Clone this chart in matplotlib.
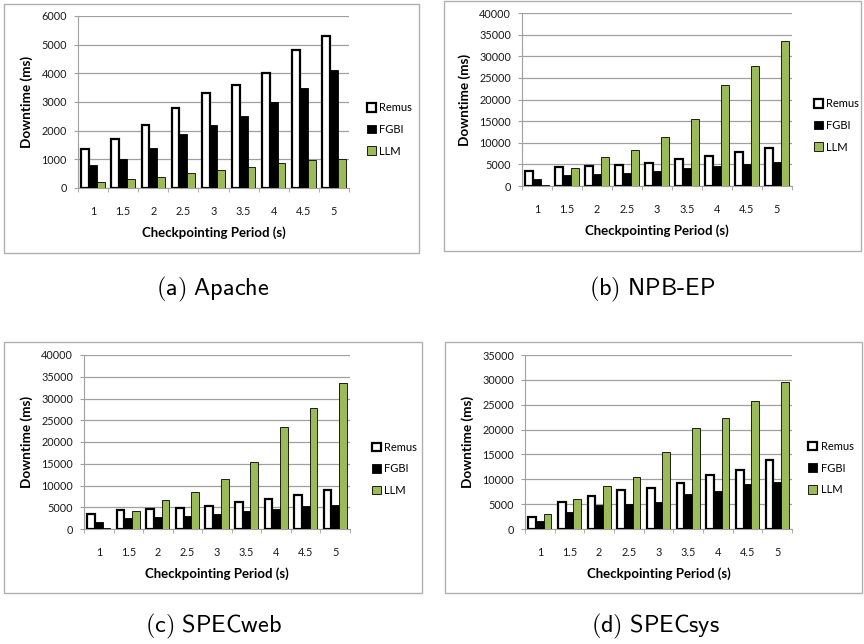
import matplotlib
matplotlib.use('Agg')
import matplotlib.pyplot as plt
from matplotlib.patches import Rectangle
import numpy as np

periods = ['1', '1.5', '2', '2.5', '3', '3.5', '4', '4.5', '5']
series_names = ['Remus', 'FGBI', 'LLM']

apache_remus = [1350, 1700, 2200, 2800, 3300, 3600, 4000, 4800, 5300]
apache_fgbi = [800, 1000, 1400, 1900, 2200, 2500, 3000, 3500, 4100]
apache_llm = [200, 300, 400, 520, 620, 730, 860, 970, 1000]

npb_remus = [3500, 4400, 4700, 4900, 5300, 6300, 6900, 7800, 8900]
npb_fgbi = [1600, 2500, 2800, 3100, 3500, 4100, 4700, 5200, 5500]
npb_llm = [200, 4100, 6700, 8400, 11400, 15400, 23400, 27800, 33600]

specweb_remus = [3500, 4400, 4700, 4900, 5300, 6300, 6900, 7800, 8900]
specweb_fgbi = [1600, 2500, 2800, 3100, 3500, 4100, 4700, 5200, 5500]
specweb_llm = [200, 4100, 6700, 8400, 11400, 15400, 23400, 27800, 33600]

specsys_remus = [2500, 5400, 6700, 7900, 8300, 9300, 10900, 11800, 13900]
specsys_fgbi = [1700, 3500, 4800, 5100, 5400, 7000, 7700, 9100, 9500]
specsys_llm = [3100, 6000, 8700, 10400, 15400, 20400, 22400, 25800, 29600]

captions = ['(a) Apache', '(b) NPB-EP', '(c) SPECweb', '(d) SPECsys']

plt.rcParams['font.family'] = ['Lato', 'DejaVu Sans']
plt.rcParams['mathtext.fontset'] = 'cm'

face_colors = ['white', 'black', '#9bbb59']
grid_grey = '#a0a0a0'


def draw_panel(fig, rect, data, ymax, ystep, legend_xy):
    ax = fig.add_axes(rect)
    x = np.arange(len(periods))
    w = 0.26
    for i, vals in enumerate(data):
        ax.bar(x + (i - 1) * w, vals, w, color=face_colors[i],
               edgecolor='black', linewidth=1.6 if i == 0 else 0.6,
               label=series_names[i], zorder=3)
    ax.set_ylim(0, ymax)
    ax.set_yticks(np.arange(0, ymax + 1, ystep))
    ax.set_xlim(-0.5, len(periods) - 0.5)
    ax.set_xticks(x)
    ax.set_xticklabels(periods)
    ax.set_xticks(np.arange(-0.5, len(periods), 1), minor=True)
    ax.grid(axis='y', color=grid_grey, linewidth=0.9, zorder=0)
    for s in ['top', 'right']:
        ax.spines[s].set_visible(False)
    ax.spines['left'].set_color(grid_grey)
    ax.spines['bottom'].set_color(grid_grey)
    ax.tick_params(axis='both', labelsize=7.8, colors='#1a1a1a', length=3, color=grid_grey)
    ax.tick_params(axis='y', pad=5)
    ax.tick_params(axis='x', which='major', length=0, pad=13)
    ax.tick_params(axis='x', which='minor', length=3, color=grid_grey)
    ax.set_xlabel('Checkpointing Period (s)', fontsize=9.5, fontweight='bold', labelpad=7)
    ax.set_ylabel('Downtime (ms)', fontsize=9.8, fontweight='bold', labelpad=6)
    ax.legend(loc='center left', bbox_to_anchor=legend_xy, frameon=False,
              fontsize=8, handlelength=0.8, handleheight=0.8,
              handletextpad=0.3, labelspacing=0.95, borderaxespad=0)
    return ax


fig = plt.figure(figsize=(8.64, 6.44), dpi=100)
W, H = 864, 644

# grey frames around each chart
frames = [(4, 4, 419, 253), (444, 1, 861, 251), (4, 342, 422, 593), (445, 342, 862, 593)]
for x0, y0, x1, y1 in frames:
    fig.patches.append(Rectangle((x0 / W, 1 - y1 / H), (x1 - x0) / W, (y1 - y0) / H,
                                 transform=fig.transFigure, fill=False,
                                 edgecolor='#b0b0b0', linewidth=1.0))

draw_panel(fig, [78 / W, 1 - 188 / H, 271 / W, 172 / H],
           [apache_remus, apache_fgbi, apache_llm], 6000, 1000, (1.05, 0.34))
draw_panel(fig, [522 / W, 1 - 186 / H, 270 / W, 173 / H],
           [npb_remus, npb_fgbi, npb_llm], 40000, 5000, (1.065, 0.35))
draw_panel(fig, [84 / W, 1 - 529 / H, 266 / W, 174 / H],
           [specweb_remus, specweb_fgbi, specweb_llm], 40000, 5000, (1.065, 0.345))
draw_panel(fig, [525 / W, 1 - 529 / H, 267 / W, 174 / H],
           [specsys_remus, specsys_fgbi, specsys_llm], 35000, 5000, (1.045, 0.35))

# captions in Computer Modern Sans, like the LaTeX subfigure captions
caption_pos = [(213, 289), (652, 289), (213, 626), (655, 626)]
for (cx, cy), txt in zip(caption_pos, captions):
    label = r'$\mathsf{' + txt.replace(' ', r'\ ').replace('-', r'\text{-}') + '}$'
    fig.text(cx / W, 1 - cy / H, label, ha='center', va='center', fontsize=17.5)

plt.savefig('out.png', dpi=100)
